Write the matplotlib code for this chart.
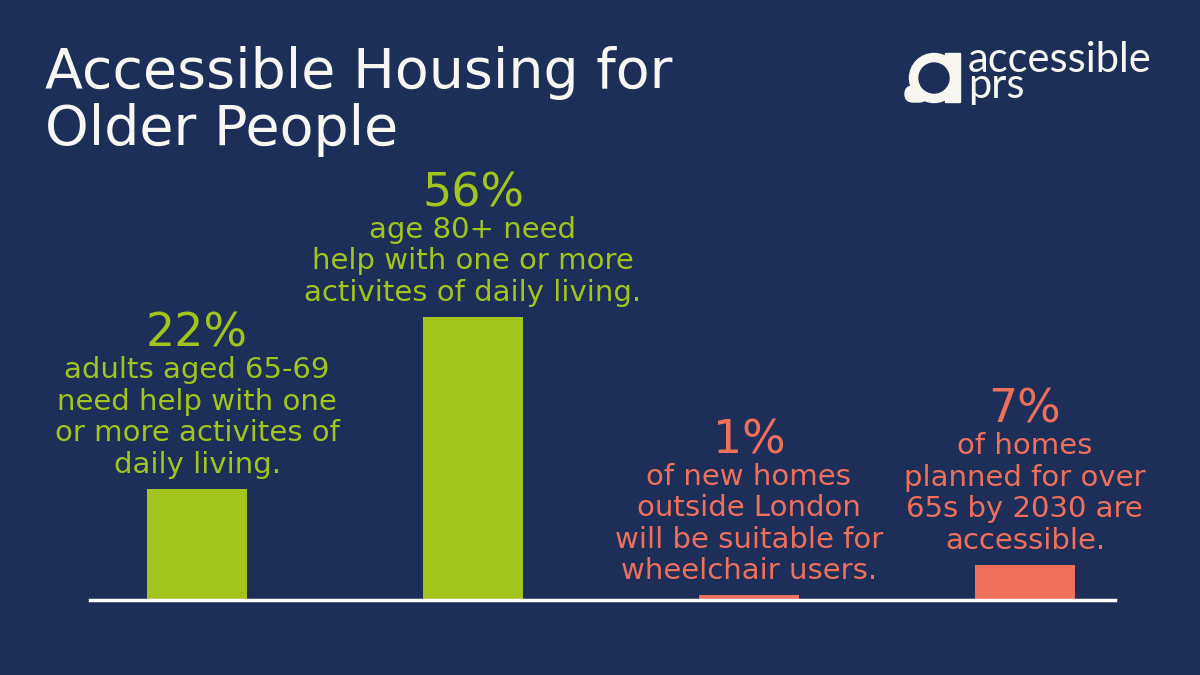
import matplotlib.pyplot as plt
from matplotlib.patches import Circle, Rectangle, FancyBboxPatch

# ------------------------------------------------
# Data
# ------------------------------------------------
values = [22, 56, 1, 7]
pct_labels = ["22%", "56%", "1%", "7%"]
notes = [
    "adults aged 65-69\nneed help with one\nor more activites of\ndaily living.",
    "age 80+ need\nhelp with one or more\nactivites of daily living.",
    "of new homes\noutside London\nwill be suitable for\nwheelchair users.",
    "of homes\nplanned for over\n65s by 2030 are\naccessible.",
]

BG = "#1d2f59"
GREEN = "#a3c41d"
SALMON = "#ef705a"
WHITE = "#f7f6f0"
bar_colors = [GREEN, GREEN, SALMON, SALMON]

plt.rcParams["font.family"] = ["DejaVu Sans"]

fig = plt.figure(figsize=(12, 6.75), dpi=100, facecolor=BG)

# full-figure layer in pixel coords for title and logo
bg = fig.add_axes([0, 0, 1, 1])
bg.set_xlim(0, 1200)
bg.set_ylim(675, 0)
bg.axis("off")
bg.patch.set_alpha(0)

bg.text(45, 46, "Accessible Housing for\nOlder People", color=WHITE, fontsize=40,
        va="top", ha="left", linespacing=1.08)

# logo
bg.add_patch(Circle((934, 78), 24.5, color=WHITE, zorder=2))
bg.add_patch(Rectangle((945, 53), 15, 49, color=WHITE, zorder=2))
bg.add_patch(FancyBboxPatch((905, 86), 22, 16, boxstyle="round,pad=0,rounding_size=8",
                            color=WHITE, zorder=2))
bg.add_patch(Circle((934, 78), 15, color=BG, zorder=3))
bg.text(968, 98, "accessible\nprs", color=WHITE, fontsize=30, family="Lato",
        va="baseline", ha="left", linespacing=0.62)

# ------------------------------------------------
# Bars
# ------------------------------------------------
ax = fig.add_axes([0.075, 0.111, 0.854, 0.45])
ax.set_facecolor("none")
x = list(range(len(values)))
ax.bar(x, values, width=0.36, color=bar_colors, zorder=2)
ax.set_xlim(-0.388, 3.326)
ax.set_ylim(0, 60)

for s in ["top", "right", "left"]:
    ax.spines[s].set_visible(False)
ax.spines["bottom"].set_color("white")
ax.spines["bottom"].set_linewidth(2.5)
ax.spines["bottom"].set_zorder(3)
ax.set_xticks([])
ax.set_yticks([])

for i, v in enumerate(values):
    n = notes[i].count("\n") + 1
    ax.annotate(notes[i], xy=(i, v), xytext=(0, 7), textcoords="offset points",
                ha="center", va="bottom", fontsize=21, color=bar_colors[i],
                linespacing=1.16, annotation_clip=False)
    ax.annotate(pct_labels[i], xy=(i, v), xytext=(0, (14 + 32 * n) * 0.72),
                textcoords="offset points", ha="center", va="baseline",
                fontsize=33, color=bar_colors[i], annotation_clip=False)

fig.savefig("out.png", dpi=100, facecolor=BG)
